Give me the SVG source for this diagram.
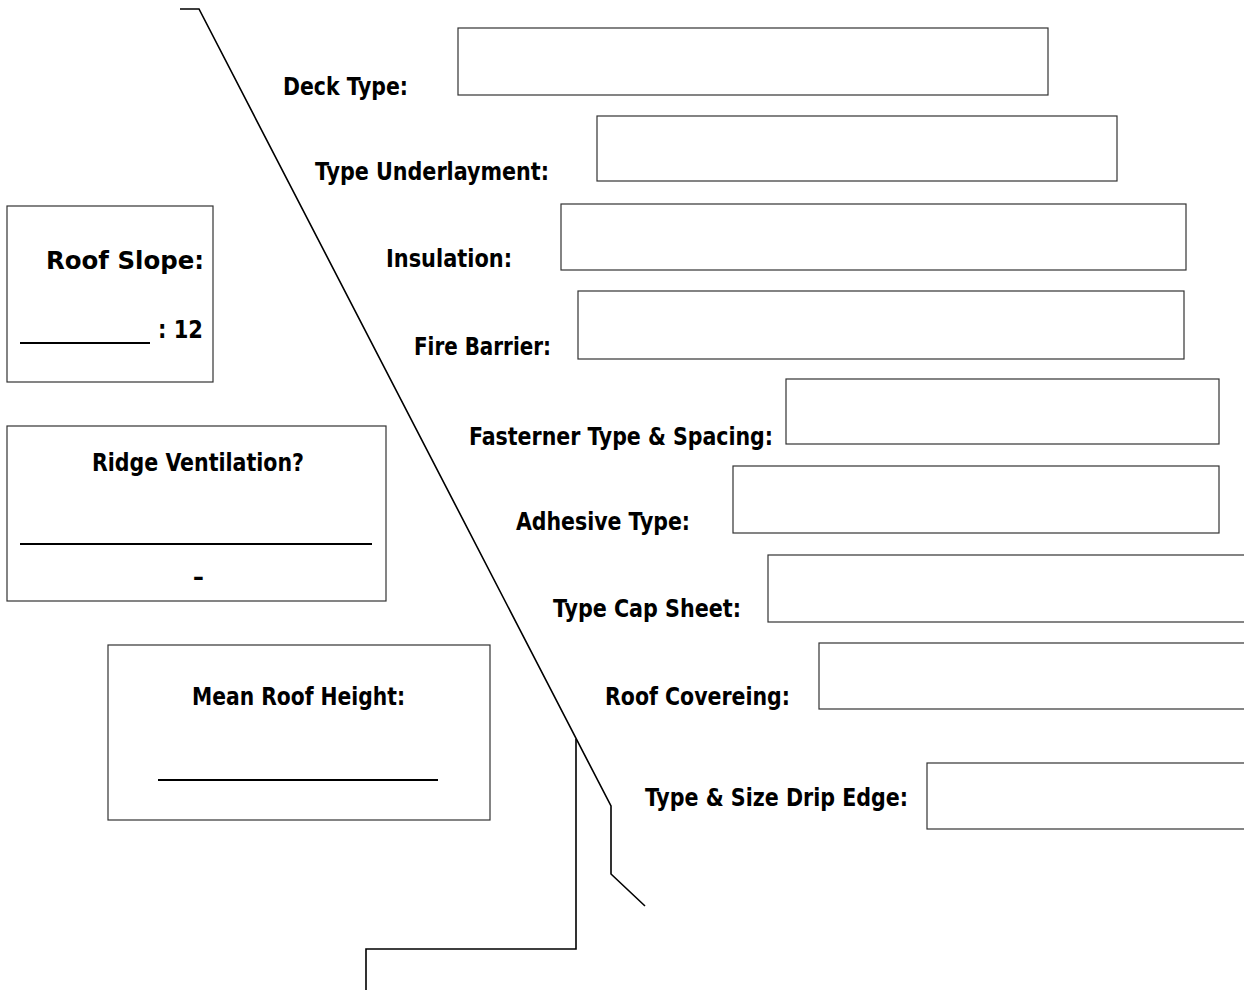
<svg xmlns="http://www.w3.org/2000/svg" width="1244" height="990" viewBox="0 0 1244 990">
<style>
.bx{fill:none;stroke:#333;stroke-width:1.2}
.ln{fill:none;stroke:#000;stroke-width:1.6}
.ul{stroke:#000;stroke-width:2}
.t{font-family:"DejaVu Sans Condensed","DejaVu Sans",sans-serif;font-weight:bold;font-size:24px;fill:#000}
</style>
<rect width="1244" height="990" fill="#fff"/>
<g id="connectors">
<polyline class="ln" points="180,9 199,9 611,806 611,874 645,906"/>
<polyline class="ln" points="576,739 576,949 366,949 366,990"/>
</g>
<g id="deck-type"><text class="t" x="283" y="95" textLength="125" lengthAdjust="spacingAndGlyphs">Deck Type:</text><rect class="bx" x="458" y="28" width="590" height="67"/></g>
<g id="type-underlayment"><text class="t" x="315" y="180" textLength="234" lengthAdjust="spacingAndGlyphs">Type Underlayment:</text><rect class="bx" x="597" y="116" width="520" height="65"/></g>
<g id="insulation"><text class="t" x="386" y="267" textLength="126" lengthAdjust="spacingAndGlyphs">Insulation:</text><rect class="bx" x="561" y="204" width="625" height="66"/></g>
<g id="fire-barrier"><text class="t" x="414" y="355" textLength="137" lengthAdjust="spacingAndGlyphs">Fire Barrier:</text><rect class="bx" x="578" y="291" width="606" height="68"/></g>
<g id="fastener"><text class="t" x="469" y="445" textLength="304" lengthAdjust="spacingAndGlyphs">Fasterner Type &amp; Spacing:</text><rect class="bx" x="786" y="379" width="433" height="65"/></g>
<g id="adhesive"><text class="t" x="516" y="530" textLength="174" lengthAdjust="spacingAndGlyphs">Adhesive Type:</text><rect class="bx" x="733" y="466" width="486" height="67"/></g>
<g id="cap-sheet"><text class="t" x="553" y="617" textLength="188" lengthAdjust="spacingAndGlyphs">Type Cap Sheet:</text><rect class="bx" x="768" y="555" width="490" height="67"/></g>
<g id="roof-covering"><text class="t" x="605" y="705" textLength="185" lengthAdjust="spacingAndGlyphs">Roof Covereing:</text><rect class="bx" x="819" y="643" width="440" height="66"/></g>
<g id="drip-edge"><text class="t" x="645" y="806" textLength="263" lengthAdjust="spacingAndGlyphs">Type &amp; Size Drip Edge:</text><rect class="bx" x="927" y="763" width="330" height="66"/></g>
<g id="roof-slope"><rect class="bx" x="7" y="206" width="206" height="176"/><text class="t" x="46" y="269" textLength="158" lengthAdjust="spacingAndGlyphs">Roof Slope:</text><line class="ul" x1="20" y1="343" x2="150" y2="343"/><text class="t" x="158" y="338" textLength="45" lengthAdjust="spacingAndGlyphs">: 12</text></g>
<g id="ridge-ventilation"><rect class="bx" x="7" y="426" width="379" height="175"/><text class="t" x="92" y="471" textLength="212" lengthAdjust="spacingAndGlyphs">Ridge Ventilation?</text><line class="ul" x1="20" y1="544" x2="372" y2="544"/><text class="t" x="193" y="585">–</text></g>
<g id="mean-roof-height"><rect class="bx" x="108" y="645" width="382" height="175"/><text class="t" x="192" y="705" textLength="213" lengthAdjust="spacingAndGlyphs">Mean Roof Height:</text><line class="ul" x1="158" y1="780" x2="438" y2="780"/></g>
</svg>
